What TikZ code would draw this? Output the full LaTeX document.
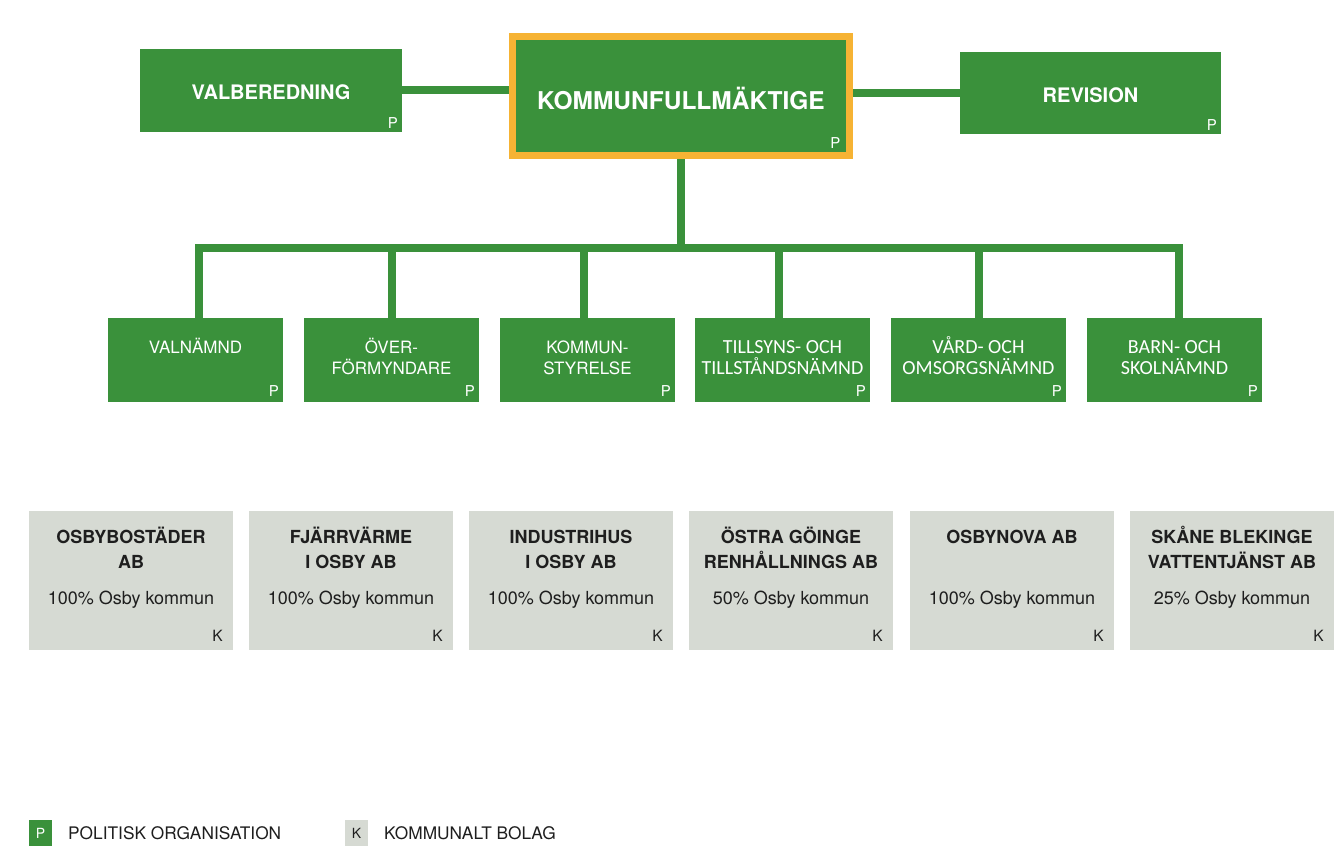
\documentclass[tikz,border=0pt]{standalone}
\usepackage{fontspec}
\setmainfont{TeX Gyre Heros}
\newfontfamily\calib{Carlito}
\usetikzlibrary{backgrounds}
\definecolor{kgreen}{HTML}{3A913B}
\definecolor{korange}{HTML}{F6B334}
\definecolor{kgrey}{HTML}{D6DAD3}
\definecolor{kdark}{HTML}{1E1E1E}
\newcommand{\fs}[2]{\fontsize{#1}{#2}\selectfont}
\newcommand{\tstrut}{\rule{0pt}{18pt}}
\begin{document}
\begin{tikzpicture}[x=1pt,y=-1pt,
  greenbox/.style={fill=kgreen, draw=none, inner sep=0pt, outer sep=0pt},
  kfbox/.style={fill=kgreen, draw=korange, line width=7pt, inner sep=0pt, outer sep=0pt,
     minimum width=337pt, minimum height=119pt},
  midbox/.style={greenbox, minimum width=175pt, minimum height=84pt},
  greybox/.style={fill=kgrey, draw=none, inner sep=0pt, outer sep=0pt,
     minimum width=204pt, minimum height=139pt},
  toptext/.style={text=white, font=\bfseries\fs{20}{24}, inner sep=0pt,
     text height=14.4pt, text depth=0pt},
  midtext/.style={text=white, font=\fs{17}{21}, inner sep=0pt, align=center, anchor=north},
  cmidtext/.style={midtext, font=\calib\fs{20}{21.5}},
  cotitle/.style={text=kdark, font=\bfseries\fs{18}{25}, inner sep=0pt, align=center, anchor=north},
  coshare/.style={text=kdark, font=\fs{18}{20}, inner sep=0pt, anchor=base},
  plab/.style={text=white, font=\fs{15}{15}, inner sep=0pt, anchor=base east},
  klab/.style={text=kdark, font=\fs{15.5}{15.5}, inner sep=0pt, anchor=base east},
  legtext/.style={text=kdark, font=\fs{17.3}{20}, inner sep=0pt, anchor=west,
     text height=12.4pt, text depth=0pt},
  conn/.style={draw=kgreen, line width=8pt, line join=miter}
]
\useasboundingbox (0,0) rectangle (1338,864);

% top row
\node[greenbox, minimum width=262pt, minimum height=83pt] (valb) at (271,90.5) {};
\node[kfbox] (kf) at (681,96) {};
\node[greenbox, minimum width=261pt, minimum height=82pt] (rev) at (1090.5,93) {};
\node[toptext] (valbt) at ([yshift=-1.5pt]valb.center) {VALBEREDNING};
\node[toptext, font=\bfseries\fs{24.5}{28}, text height=17.6pt] (kft) at ([yshift=-5pt]kf.center) {KOMMUNFULLMÄKTIGE};
\node[toptext] (revt) at ([yshift=-2pt]rev.center) {REVISION};
\node[plab] (valbp) at ([xshift=-4pt,yshift=3.5pt]valb.south east) {P};
\node[plab] (kfp) at ([xshift=-9pt,yshift=7.5pt]kf.south east) {P};
\node[plab] (revp) at ([xshift=-4pt,yshift=3.5pt]rev.south east) {P};

% second row
\node[midbox] (valn) at (195.5,360) {};
\node[midbox] (over) at (391.5,360) {};
\node[midbox] (kst) at (587.5,360) {};
\node[midbox] (till) at (782.5,360) {};
\node[midbox] (vard) at (978.5,360) {};
\node[midbox] (barn) at (1174.5,360) {};
\node[midtext] (valnt) at ([yshift=-17pt]valn.north) {\tstrut VALNÄMND};
\node[midtext] (overt) at ([yshift=-17pt]over.north) {\tstrut ÖVER-\\FÖRMYNDARE};
\node[midtext] (kstt) at ([yshift=-17pt]kst.north) {\tstrut KOMMUN-\\STYRELSE};
\node[cmidtext] (tillt) at ([yshift=-17pt]till.north) {\tstrut TILLSYNS- OCH\\TILLSTÅNDSNÄMND};
\node[cmidtext] (vardt) at ([yshift=-17pt]vard.north) {\tstrut VÅRD- OCH\\OMSORGSNÄMND};
\node[cmidtext] (barnt) at ([yshift=-17pt]barn.north) {\tstrut BARN- OCH\\SKOLNÄMND};
\foreach \n in {valn,over,kst,till,vard,barn}{
  \node[plab] (\n p) at ([xshift=-4pt,yshift=5.5pt]\n.south east) {P};
}

% connectors
\coordinate (bus) at (681,248);
\begin{scope}[on background layer]
\fill[white] (0,0) rectangle (1338,864);
\draw[conn] (valb.east) -- (valb.east -| kf.west);
\draw[conn] (rev.west) -- (rev.west -| kf.east);
\draw[conn] (kf.south) -- (kf.south |- bus);
\draw[conn] ([xshift=3pt]valn.north) -- ([xshift=3pt]valn.north |- bus)
   -- ([xshift=4pt]barn.north |- bus) -- ([xshift=4pt]barn.north);
\draw[conn] (over.north |- bus) -- (over.north);
\draw[conn] ([xshift=-4pt]kst.north |- bus) -- ([xshift=-4pt]kst.north);
\draw[conn] ([xshift=-4pt]till.north |- bus) -- ([xshift=-4pt]till.north);
\draw[conn] (vard.north |- bus) -- (vard.north);
\end{scope}

% companies
\node[greybox] (osb) at (131,580.5) {};
\node[greybox] (fjv) at (351,580.5) {};
\node[greybox] (ind) at (571,580.5) {};
\node[greybox] (ost) at (791,580.5) {};
\node[greybox] (nova) at (1012,580.5) {};
\node[greybox] (sbv) at (1232,580.5) {};
\node[cotitle] (osbt) at ([yshift=-14.5pt]osb.north) {\tstrut OSBYBOSTÄDER\\AB};
\node[cotitle] (fjvt) at ([yshift=-14.5pt]fjv.north) {\tstrut FJÄRRVÄRME\\I OSBY AB};
\node[cotitle] (indt) at ([yshift=-14.5pt]ind.north) {\tstrut INDUSTRIHUS\\I OSBY AB};
\node[cotitle] (ostt) at ([yshift=-14.5pt]ost.north) {\tstrut ÖSTRA GÖINGE\\RENHÅLLNINGS AB};
\node[cotitle] (novat) at ([yshift=-14.5pt]nova.north) {\tstrut OSBYNOVA AB};
\node[cotitle] (sbvt) at ([yshift=-14.5pt]sbv.north) {\tstrut SKÅNE BLEKINGE\\VATTENTJÄNST AB};
\node[coshare] (osbs) at ([yshift=-93.5pt]osb.north) {100\% Osby kommun};
\node[coshare] (fjvs) at ([yshift=-93.5pt]fjv.north) {100\% Osby kommun};
\node[coshare] (inds) at ([yshift=-93.5pt]ind.north) {100\% Osby kommun};
\node[coshare] (osts) at ([yshift=-93.5pt]ost.north) {50\% Osby kommun};
\node[coshare] (novas) at ([yshift=-93.5pt]nova.north) {100\% Osby kommun};
\node[coshare] (sbvs) at ([yshift=-93.5pt]sbv.north) {25\% Osby kommun};
\foreach \n in {osb,fjv,ind,ost,nova,sbv}{
  \node[klab] (\n k) at ([xshift=-10pt,yshift=8.5pt]\n.south east) {K};
}

% legend
\node[greenbox, minimum width=23pt, minimum height=26pt] (legp) at (40.5,833) {};
\node[text=white, font=\fs{14}{14}, inner sep=0pt] (legpl) at (legp.center) {P};
\node[legtext] (legpt) at (68,833) {POLITISK ORGANISATION};
\node[fill=kgrey, inner sep=0pt, minimum width=23pt, minimum height=26pt] (legk) at (356.5,833) {};
\node[text=kdark, font=\fs{14}{14}, inner sep=0pt] (legkl) at (legk.center) {K};
\node[legtext] (legkt) at (384,833) {KOMMUNALT BOLAG};
\end{tikzpicture}
\end{document}
